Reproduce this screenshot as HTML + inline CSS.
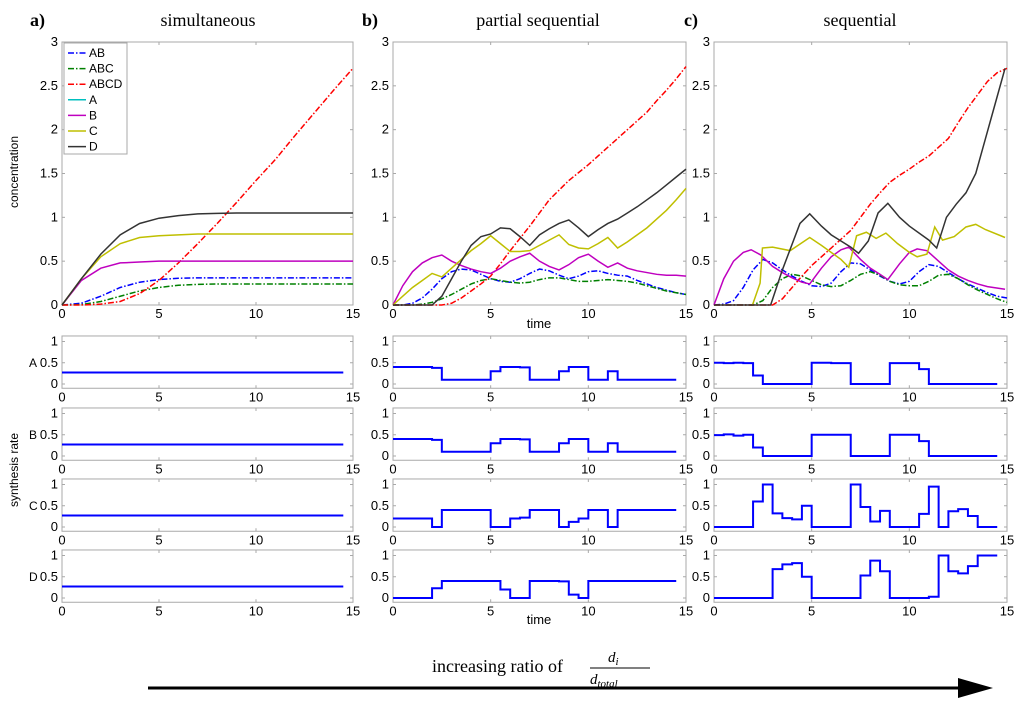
<!DOCTYPE html>
<html><head><meta charset="utf-8">
<style>
body{margin:0;background:#fff;}
svg{display:block;font-family:"Liberation Sans",sans-serif;}
</style></head>
<body>
<svg id="fig" width="1024" height="710" viewBox="0 0 1024 710" xmlns="http://www.w3.org/2000/svg">
<g font-family="Liberation Serif, serif" font-size="18">
<text x="30" y="26" font-weight="bold">a)</text>
<text x="208" y="26" text-anchor="middle">simultaneous</text>
<text x="362" y="26" font-weight="bold">b)</text>
<text x="538" y="26" text-anchor="middle">partial sequential</text>
<text x="684" y="26" font-weight="bold">c)</text>
<text x="860" y="26" text-anchor="middle">sequential</text>
</g>
<text transform="translate(18,172) rotate(-90)" text-anchor="middle" font-size="12">concentration</text>
<text transform="translate(18,470) rotate(-90)" text-anchor="middle" font-size="12">synthesis rate</text>
<text x="539" y="328" text-anchor="middle" font-size="13">time</text>
<text x="539" y="624" text-anchor="middle" font-size="13">time</text>
<g font-family="Liberation Serif, serif">
<text x="432" y="672" font-size="18">increasing ratio of</text>
<text x="608" y="662" font-size="15" font-style="italic">d<tspan font-size="11" dy="3">i</tspan></text>
<line x1="590" y1="668" x2="650" y2="668" stroke="#000" stroke-width="1"/>
<text x="590" y="684" font-size="15" font-style="italic">d<tspan font-size="11" dy="3">total</tspan></text>
</g>
<line x1="148" y1="688" x2="962" y2="688" stroke="#000" stroke-width="3"/>
<polygon points="958,678 993,688 958,698" fill="#000"/>
</svg>
<script>
// ---- data ----
const tA = [0,1,2,3,4,5,6,7,8,9,10,11,12,13,14,15];
const aD   = [0,0.3,0.58,0.8,0.93,0.99,1.02,1.04,1.045,1.05,1.05,1.05,1.05,1.05,1.05,1.05];
const aC   = [0,0.3,0.55,0.7,0.77,0.79,0.8,0.81,0.81,0.81,0.81,0.81,0.81,0.81,0.81,0.81];
const aB   = [0,0.28,0.42,0.48,0.49,0.5,0.5,0.5,0.5,0.5,0.5,0.5,0.5,0.5,0.5,0.5];
const aAB  = [0,0.02,0.1,0.2,0.26,0.29,0.305,0.31,0.31,0.31,0.31,0.31,0.31,0.31,0.31,0.31];
const aABC = [0,0.005,0.04,0.1,0.16,0.2,0.225,0.235,0.24,0.24,0.24,0.24,0.24,0.24,0.24,0.24];
const aABCD= [0,0,0.01,0.04,0.13,0.28,0.48,0.7,0.93,1.17,1.42,1.66,1.93,2.19,2.45,2.7];

const tH = [0,0.5,1,1.5,2,2.5,3,3.5,4,4.5,5,5.5,6,6.5,7,7.5,8,8.5,9,9.5,10,10.5,11,11.5,12,12.5,13,13.5,14,14.5,15];
const bD  = [0,0,0,0,0,0.1,0.3,0.5,0.68,0.78,0.81,0.88,0.87,0.78,0.68,0.8,0.87,0.93,0.97,0.88,0.78,0.86,0.93,0.98,1.05,1.12,1.2,1.28,1.37,1.46,1.55];
const bC  = [0,0.1,0.2,0.28,0.36,0.32,0.42,0.52,0.62,0.7,0.79,0.7,0.61,0.61,0.62,0.68,0.74,0.8,0.69,0.65,0.64,0.7,0.77,0.65,0.72,0.8,0.88,0.98,1.08,1.2,1.33];
const bB  = [0,0.22,0.38,0.48,0.54,0.57,0.5,0.45,0.41,0.38,0.36,0.42,0.5,0.55,0.59,0.5,0.44,0.4,0.46,0.54,0.58,0.5,0.43,0.48,0.42,0.39,0.37,0.35,0.34,0.34,0.33];
const bAB = [0,0,0.02,0.08,0.18,0.3,0.38,0.41,0.4,0.35,0.3,0.27,0.26,0.3,0.36,0.41,0.39,0.34,0.3,0.33,0.38,0.39,0.36,0.34,0.33,0.28,0.24,0.2,0.17,0.14,0.12];
const bABC= [0,0,0,0.01,0.03,0.07,0.12,0.18,0.24,0.28,0.3,0.28,0.26,0.25,0.26,0.29,0.31,0.31,0.29,0.27,0.27,0.28,0.29,0.28,0.27,0.25,0.22,0.19,0.16,0.14,0.12];
const bABCD=[0,0,0,0,0,0,0.02,0.08,0.16,0.24,0.33,0.47,0.62,0.76,0.9,1.05,1.2,1.31,1.42,1.51,1.6,1.7,1.8,1.9,2.0,2.1,2.2,2.33,2.45,2.58,2.72];

const cAB = [0,0.01,0.05,0.2,0.4,0.52,0.48,0.4,0.33,0.27,0.22,0.21,0.25,0.38,0.48,0.47,0.4,0.33,0.27,0.24,0.27,0.38,0.46,0.44,0.37,0.3,0.24,0.19,0.14,0.1,0.08];
const cABC= [0,0,0,0,0,0.05,0.2,0.3,0.35,0.33,0.28,0.23,0.21,0.22,0.28,0.35,0.38,0.34,0.27,0.23,0.22,0.22,0.27,0.34,0.35,0.3,0.23,0.17,0.12,0.07,0.03];
const cABCD=[0,0,0,0,0,0,0,0.07,0.2,0.33,0.45,0.55,0.65,0.75,0.85,1.0,1.15,1.28,1.4,1.48,1.55,1.63,1.7,1.8,1.9,2.08,2.25,2.4,2.55,2.65,2.7];
const cBt = [0,0.5,1,1.5,1.9,2.4,3,3.5,4,4.5,4.9,5.5,6,6.5,6.9,7.5,8,8.5,8.9,9.5,10,10.4,10.9,11.5,12,12.5,13,13.5,14,14.9];
const cB  = [0,0.3,0.5,0.6,0.63,0.57,0.44,0.37,0.31,0.26,0.24,0.42,0.55,0.63,0.66,0.52,0.42,0.35,0.29,0.47,0.6,0.64,0.62,0.5,0.4,0.33,0.28,0.24,0.21,0.18];
const cCt = [1.97,2.36,2.48,3.0,3.9,4.9,5.5,6.5,6.9,7.3,7.8,8.3,8.8,9.4,10,10.4,10.9,11.3,11.7,12.3,12.9,13.4,13.9,14.9];
const cC  = [0,0.25,0.65,0.66,0.62,0.77,0.68,0.52,0.43,0.79,0.83,0.76,0.82,0.7,0.6,0.55,0.58,0.89,0.74,0.78,0.89,0.92,0.86,0.77];
const cDt = [0,2.9,3.5,4.4,4.9,5.5,6,7,7.4,7.9,8.4,8.9,9.5,10,11,11.4,11.9,12.4,12.9,13.4,13.9,14.4,14.9];
const cD  = [0,0,0.4,0.93,1.04,0.9,0.8,0.66,0.59,0.73,1.05,1.16,1.0,0.9,0.74,0.65,1.0,1.15,1.28,1.5,1.9,2.3,2.7];

// step (synthesis rate) data: breakpoints and held values
const sA_t = [0,14.5];            const sA_v = [0.27];
const bA_t = [0,2,2.5,5,5.5,6.5,7,8.5,9,10,11,11.5,14.5];
const bA_v = [0.4,0.38,0.1,0.3,0.4,0.39,0.1,0.3,0.4,0.1,0.3,0.1];
const bBs_t= [0,2,2.5,5,5.5,6.5,7,8.5,9,10,11,11.5,14.5];
const bBs_v= [0.4,0.38,0.1,0.3,0.4,0.39,0.1,0.3,0.4,0.1,0.3,0.1];
const bCs_t= [0,2,2.5,5,6,6.5,7,8.5,9,9.5,10,11,11.5,14.5];
const bCs_v= [0.2,0,0.4,0,0.2,0.22,0.4,0,0.12,0.2,0.4,0,0.4];
const bDs_t= [0,2,2.5,5.5,6,7,8.5,9,9.5,10,14.5];
const bDs_v= [0,0.23,0.4,0.2,0,0.4,0.39,0.08,0,0.4];
const cAs_t= [0,0.5,1,1.5,2,2.5,5,6,7,9,10.5,11,14.5];
const cAs_v= [0.5,0.49,0.5,0.49,0.2,0,0.5,0.49,0,0.49,0.35,0];
const cBs_t= [0,0.5,1,1.5,2,2.5,5,6,7,9,10.5,11,14.5];
const cBs_v= [0.49,0.51,0.48,0.5,0.2,0,0.5,0.5,0,0.5,0.35,0];
const cCs_t= [0,2,2.5,3,3.5,4,4.5,5,7,7.5,8,8.5,9,10.5,11,11.5,12,12.5,13,13.5,14.5];
const cCs_v= [0,0.6,1,0.32,0.21,0.18,0.5,0,1,0.47,0.13,0.38,0,0.31,0.95,0,0.37,0.42,0.26,0];
const cDs_t= [0,3,3.5,4,4.5,5,7.5,8,8.5,9,11,11.5,12,12.5,13,13.5,14.5];
const cDs_v= [0,0.68,0.79,0.82,0.5,0,0.53,0.88,0.63,0,0.03,1,0.63,0.58,0.75,1];

const xTicks = [0,5,10,15];
const yTicksMain = [0,0.5,1,1.5,2,2.5,3];
const yTicksSmall = [0,0.5,1];
const rowLabels = ['A','B','C','D'];

// ---- drawing ----
const NS = 'http://www.w3.org/2000/svg';
const svg = document.getElementById('fig');
function mk(tag, attrs, parent){const e=document.createElementNS(NS,tag);for(const k in attrs)e.setAttribute(k,attrs[k]);(parent||svg).appendChild(e);return e;}
const cols = [{x0:62,x1:353,n:'a'},{x0:393,x1:686,n:'b'},{x0:714,x1:1007,n:'c'}];
const styles = {
  AB:{c:'#0000ff',d:'6,2,1.5,2'},ABC:{c:'#008000',d:'6,2,1.5,2'},ABCD:{c:'#ff0000',d:'6,2,1.5,2'},
  A:{c:'#00bfbf',d:''},B:{c:'#bf00bf',d:''},C:{c:'#bfbf00',d:''},D:{c:'#333333',d:''}
};
function axes(col, yTop, yBot, ymin, ymax, yticks, name){
  const sx = t => col.x0 + (t/15)*(col.x1-col.x0);
  const sy = v => yBot - (v-ymin)/(ymax-ymin)*(yBot-yTop);
  const g = mk('g',{});
  
  
  mk('rect',{x:col.x0,y:yTop,width:col.x1-col.x0,height:yBot-yTop,fill:'none',stroke:'#a8a8a8','stroke-width':1},g);
  xTicks.forEach(t=>{
    mk('line',{x1:sx(t),x2:sx(t),y1:yBot,y2:yBot-3,stroke:'#a8a8a8'},g);
    mk('line',{x1:sx(t),x2:sx(t),y1:yTop,y2:yTop+3,stroke:'#a8a8a8'},g);
    const tx=mk('text',{x:sx(t),y:yBot+13,'text-anchor':'middle','font-size':13},g);
    tx.textContent=t;
  });
  yticks.forEach(v=>{
    mk('line',{x1:col.x0,x2:col.x0+3,y1:sy(v),y2:sy(v),stroke:'#a8a8a8'},g);
    mk('line',{x1:col.x1,x2:col.x1-3,y1:sy(v),y2:sy(v),stroke:'#a8a8a8'},g);
    const tx=mk('text',{x:col.x0-4,y:sy(v)+4,'text-anchor':'end','font-size':13},g);
    tx.textContent=v;
  });
  return {sx,sy,g};
}
function line(ax, ts, vs, key, name){
  const st=styles[key];
  const p=mk('polyline',{points:ts.map((t,i)=>ax.sx(t)+','+ax.sy(vs[i])).join(' '),fill:'none',stroke:st.c,'stroke-width':1.5,'stroke-dasharray':st.d},ax.g);
  
  
}
function step(ax, ts, vs, name){
  let pts=[];
  for(let i=0;i<vs.length;i++){pts.push(ax.sx(ts[i])+','+ax.sy(vs[i]));pts.push(ax.sx(ts[i+1])+','+ax.sy(vs[i]));}
  const p=mk('polyline',{points:pts.join(' '),fill:'none',stroke:'#0000ff','stroke-width':2},ax.g);
  
  
}
const mainTop=42, mainBot=305;
const axA=axes(cols[0],mainTop,mainBot,0,3,yTicksMain,'concentration-plot-a');
line(axA,tA,aAB,'AB','line-ab-a');line(axA,tA,aABC,'ABC','line-abc-a');line(axA,tA,aABCD,'ABCD','line-abcd-a');
line(axA,tA,aB,'B','line-b-a');line(axA,tA,aC,'C','line-c-a');line(axA,tA,aD,'D','line-d-a');
const axB=axes(cols[1],mainTop,mainBot,0,3,yTicksMain,'concentration-plot-b');
line(axB,tH,bAB,'AB','line-ab-b');line(axB,tH,bABC,'ABC','line-abc-b');line(axB,tH,bABCD,'ABCD','line-abcd-b');
line(axB,tH,bB,'B','line-b-b');line(axB,tH,bC,'C','line-c-b');line(axB,tH,bD,'D','line-d-b');
const axC=axes(cols[2],mainTop,mainBot,0,3,yTicksMain,'concentration-plot-c');
line(axC,tH,cAB,'AB','line-ab-c');line(axC,tH,cABC,'ABC','line-abc-c');line(axC,tH,cABCD,'ABCD','line-abcd-c');
line(axC,cBt,cB,'B','line-b-c');line(axC,cCt,cC,'C','line-c-c');line(axC,cDt,cD,'D','line-d-c');

// legend
const lg=mk('g',{});


mk('rect',{x:64,y:43,width:63,height:111,fill:'#fff',stroke:'#a8a8a8'},lg);
['AB','ABC','ABCD','A','B','C','D'].forEach((k,i)=>{
  const y=53+i*15.6;
  const e=mk('g',{},lg);
  
  
  mk('line',{x1:68,x2:86,y1:y,y2:y,stroke:styles[k].c,'stroke-width':1.5,'stroke-dasharray':styles[k].d},e);
  const t=mk('text',{x:89,y:y+4,'font-size':12},e);t.textContent=k;
});

// synthesis rate rows
const rowZero=[384,456,527,598];
const steps=[
  [[sA_t,sA_v],[bA_t,bA_v],[cAs_t,cAs_v]],
  [[sA_t,sA_v],[bBs_t,bBs_v],[cBs_t,cBs_v]],
  [[sA_t,sA_v],[bCs_t,bCs_v],[cCs_t,cCs_v]],
  [[sA_t,sA_v],[bDs_t,bDs_v],[cDs_t,cDs_v]]
];
rowZero.forEach((z,r)=>{
  const u=42.5;
  const top=z-1.13*u, bot=z+0.1*u;
  const lab=mk('text',{x:29,y:z-17,'font-size':12});
  lab.textContent=rowLabels[r];
  
  
  cols.forEach((col,c)=>{
    const ax=axes(col,top,bot,-0.1,1.13,yTicksSmall,'rate-plot-'+rowLabels[r].toLowerCase()+'-'+col.n);
    step(ax,steps[r][c][0],steps[r][c][1],'rate-step-'+rowLabels[r].toLowerCase()+'-'+col.n);
  });
});
</script>
</body></html>
